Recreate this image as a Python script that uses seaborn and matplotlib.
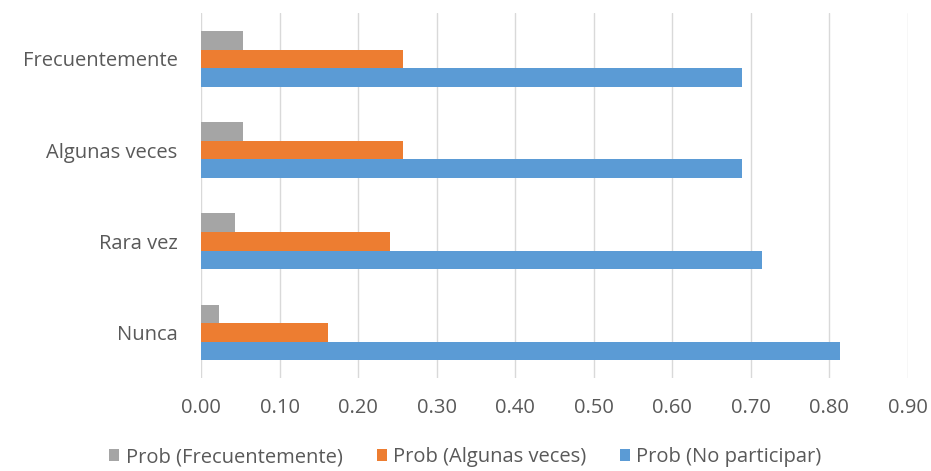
import pandas as pd
import matplotlib
matplotlib.use("Agg")
import matplotlib.pyplot as plt
import seaborn as sns

# categories (top to bottom) and series values
categories = ["Frecuentemente", "Algunas veces", "Rara vez", "Nunca"]
series_names = ["Prob (Frecuentemente)", "Prob (Algunas veces)", "Prob (No participar)"]
prob_frecuentemente = [0.054, 0.054, 0.043, 0.023]
prob_algunas_veces = [0.257, 0.257, 0.240, 0.161]
prob_no_participar = [0.689, 0.689, 0.715, 0.814]
x_ticks = [0.0, 0.1, 0.2, 0.3, 0.4, 0.5, 0.6, 0.7, 0.8, 0.9]

colors = ["#A5A5A5", "#ED7D31", "#5B9BD5"]

# long format table for seaborn
rows = []
for name, vals in zip(series_names, [prob_frecuentemente, prob_algunas_veces, prob_no_participar]):
    for cat, v in zip(categories, vals):
        rows.append({"categoria": cat, "serie": name, "valor": v})
df = pd.DataFrame(rows)

sns.set_style("white")
plt.rcParams["font.family"] = ["Open Sans", "DejaVu Sans"]

fig = plt.figure(figsize=(9.31, 4.71), dpi=100)
ax = fig.add_axes([0.216, 0.197, 0.759, 0.775])

sns.barplot(data=df, x="valor", y="categoria", hue="serie", order=categories,
            hue_order=series_names, palette=colors, width=0.61, gap=0,
            orient="h", ax=ax, legend=True, saturation=1, linewidth=0)

ax.set_xlim(0, 0.9)
ax.set_xticks(x_ticks)
ax.set_xticklabels([f"{t:.2f}" for t in x_ticks])
ax.grid(axis="x", color="#D9D9D9", linewidth=1)
ax.set_axisbelow(True)
for s in ax.spines.values():
    s.set_visible(False)
ax.set_xlabel("")
ax.set_ylabel("")
ax.tick_params(axis="x", length=0, pad=14, labelsize=14.5, labelcolor="#595959")
ax.tick_params(axis="y", length=0, pad=17, labelsize=14.5, labelcolor="#595959")

handles, labels = ax.get_legend_handles_labels()
ax.get_legend().remove()
fig.legend(handles, labels, loc="lower center", ncol=3, frameon=False,
           bbox_to_anchor=(0.5, -0.03), fontsize=14.5, labelcolor="#595959",
           handlelength=0.5, handleheight=0.5, handletextpad=0.3, columnspacing=1.7)

fig.savefig("out.png", dpi=100)
